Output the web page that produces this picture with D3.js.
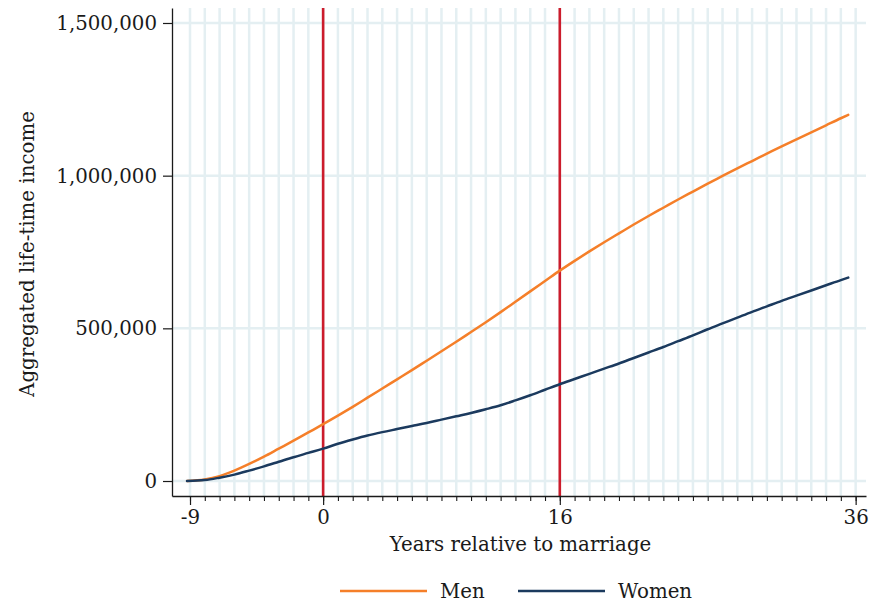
<!DOCTYPE html>
<html>
<head>
<meta charset="utf-8">
<script src="https://cdn.jsdelivr.net/npm/d3@7"></script>
<style>
  html, body { margin: 0; padding: 0; background: #fff; }
  svg { display: block; font-family: "DejaVu Serif", "Liberation Serif", serif; }
</style>
</head>
<body>
<svg id="chart" width="869" height="602"></svg>
<script>
// Years relative to marriage at which the fitted curves are evaluated
const years = [-9.2, -8, -7, -6, -5, -4, -3, -2, -1, 0, 1, 2, 3, 4, 5, 6, 7, 8, 9, 10,
  11, 12, 13, 14, 15, 16, 17, 18, 19, 20, 21, 22, 23, 24, 25, 26, 27, 28, 29, 30,
  31, 32, 33, 34, 35, 35.5];

// Aggregated life-time income (currency units)
const menIncome = [0, 5000, 16000, 34000, 56000, 80000, 106000, 132000, 159000, 186000,
  214000, 243000, 273000, 303000, 333000, 363000, 394000, 425000, 456000, 488000,
  520000, 553000, 587000, 621000, 655000, 689000, 721000, 752000, 782000, 811000,
  840000, 868000, 895000, 922000, 948000, 974000, 999000, 1024000, 1048000, 1072000,
  1096000, 1119000, 1142000, 1165000, 1188000, 1199000];

const womenIncome = [0, 3000, 11000, 21000, 34000, 48000, 63000, 78000, 92000, 106000,
  122000, 136000, 149000, 160000, 170000, 180000, 190000, 201000, 212000, 223000,
  235000, 248000, 264000, 281000, 299000, 317000, 334000, 351000, 368000, 385000,
  403000, 421000, 439000, 458000, 477000, 497000, 516000, 535000, 554000, 572000,
  590000, 607000, 624000, 641000, 658000, 666000];

const gridYears = d3.range(-9, 37);          // one vertical grid line per year
const labelYears = [-9, 0, 16, 36];           // labelled x ticks
const eventYears = [0, 16];                   // marked reference years
const yTicks = [0, 500000, 1000000, 1500000];

const seriesNames = ["Men", "Women"];
const seriesColors = ["#f57f29", "#1b3a5e"];

const svg = d3.select("#chart");
const L = 172, R = 866, T = 8, B = 496;
const FS = 19.8;
const INK = "#1a1a1a";

const x = d3.scaleLinear().domain([-10.217, 36.70]).range([L, R]);
const y = d3.scaleLinear().domain([-49100, 1549100]).range([B, T]);

// Grid
const grid = svg.append("g").attr("stroke", "#e4eff2").attr("stroke-width", 2.5);
grid.selectAll("line.v").data(gridYears).join("line")
  .attr("class", "v")
  .attr("x1", d => x(d)).attr("x2", d => x(d))
  .attr("y1", T).attr("y2", B);
grid.selectAll("line.h").data(yTicks).join("line")
  .attr("class", "h")
  .attr("x1", L).attr("x2", R)
  .attr("y1", d => y(d)).attr("y2", d => y(d));

// Reference years (marriage, +16)
svg.append("g").selectAll("line").data(eventYears).join("line")
  .attr("x1", d => x(d)).attr("x2", d => x(d))
  .attr("y1", T).attr("y2", B)
  .attr("stroke", "#cc1c2c").attr("stroke-width", 2.6);

// Curves
const series = [menIncome, womenIncome];
const line = d3.line()
  .x((d, i) => x(years[i]))
  .y(d => y(d))
  .curve(d3.curveMonotoneX);
svg.append("g").selectAll("path").data(series).join("path")
  .attr("d", d => line(d))
  .attr("fill", "none")
  .attr("stroke", (d, i) => seriesColors[i])
  .attr("stroke-width", 2.5)
  .attr("stroke-linecap", "round");

// X axis: minor ticks every year, major labelled ticks
const xMinor = svg.append("g").attr("transform", `translate(0,${B})`)
  .call(d3.axisBottom(x).tickValues(gridYears).tickSize(5).tickSizeOuter(0).tickFormat(""));
xMinor.select(".domain").attr("stroke", INK).attr("stroke-width", 1.3);
xMinor.selectAll(".tick line").attr("stroke", INK).attr("stroke-width", 1.1);

const xMajor = svg.append("g").attr("transform", `translate(0,${B})`)
  .call(d3.axisBottom(x).tickValues(labelYears).tickSize(9).tickSizeOuter(0).tickPadding(5)
    .tickFormat(d => d));
xMajor.select(".domain").remove();
xMajor.selectAll(".tick line").attr("stroke", INK).attr("stroke-width", 1.2);
xMajor.selectAll(".tick text").attr("fill", INK).attr("font-size", FS)
  .attr("font-family", "DejaVu Serif");

// Y axis
const yAxis = svg.append("g").attr("transform", `translate(${L},0)`)
  .call(d3.axisLeft(y).tickValues(yTicks).tickSize(9).tickSizeOuter(0).tickPadding(6)
    .tickFormat(d3.format(",")));
yAxis.select(".domain").attr("stroke", INK).attr("stroke-width", 1.3);
yAxis.selectAll(".tick line").attr("stroke", INK).attr("stroke-width", 1.2);
yAxis.selectAll(".tick text").attr("fill", INK).attr("font-size", FS)
  .attr("font-family", "DejaVu Serif");

// Axis titles
svg.append("text")
  .attr("x", (390 + 651) / 2).attr("y", 551)
  .attr("text-anchor", "middle").attr("font-size", FS).attr("fill", INK)
  .text("Years relative to marriage");
svg.append("text")
  .attr("transform", "translate(34,254) rotate(-90)")
  .attr("text-anchor", "middle").attr("font-size", FS).attr("fill", INK)
  .text("Aggregated life-time income");

// Legend
const legendX = [340, 518];
const legend = svg.append("g").selectAll("g").data(seriesNames).join("g")
  .attr("transform", (d, i) => `translate(${legendX[i]},591)`);
legend.append("line")
  .attr("x1", 0).attr("x2", 87).attr("y1", 0).attr("y2", 0)
  .attr("stroke", (d, i) => seriesColors[i]).attr("stroke-width", 2.6);
legend.append("text")
  .attr("x", 100).attr("y", 7)
  .attr("font-size", FS).attr("fill", INK)
  .text(d => d);
</script>
</body>
</html>
